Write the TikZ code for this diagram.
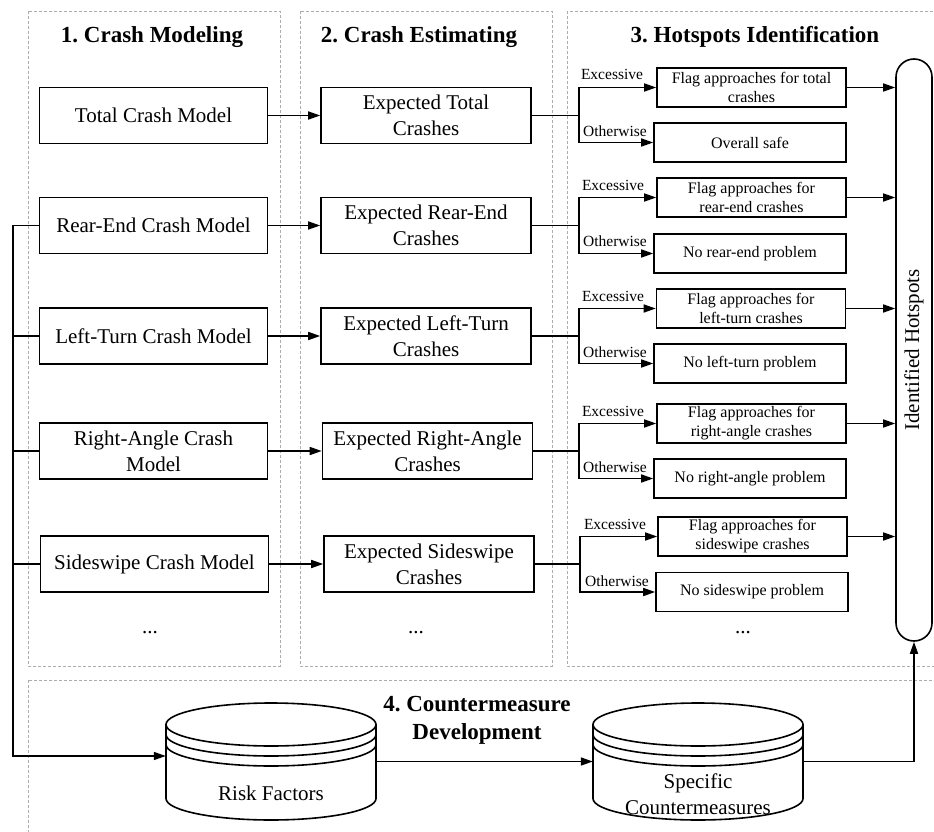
\documentclass[tikz,border=0pt]{standalone}
\usepackage{fontspec}
\setmainfont{Liberation Serif}
\usepackage{graphicx}
\usetikzlibrary{arrows.meta,calc}
\frenchspacing
\begin{document}
\begin{tikzpicture}[x=1pt,y=-1pt,
  panel/.style={draw=gray!65, dash pattern=on 3pt off 2pt, line width=0.8pt},
  ttl/.style={font=\fontsize{23}{28}\selectfont\bfseries, align=center},
  bigbox/.style={draw, line width=1.6pt, align=center, inner sep=0pt, minimum height=56pt, font=\fontsize{21}{26}\selectfont},
  mbox/.style={bigbox, minimum width=228pt},
  ebox/.style={bigbox, minimum width=210pt},
  smallbox/.style={draw, line width=1.6pt, align=center, inner sep=0pt, minimum height=39pt, font=\fontsize{16}{19}\selectfont},
  fbox/.style={smallbox, minimum width=189pt},
  nbox/.style={smallbox, minimum width=192pt},
  lab/.style={font=\fontsize{15.5}{18}\selectfont, inner sep=0pt},
  conn/.style={line width=1.6pt},
  arr/.style={conn, -{Triangle[length=12pt,width=8pt]}},
  inv/.style={inner sep=0pt},
  txt/.style={font=\fontsize{21}{26}\selectfont, align=center, inner sep=0pt}
]
\useasboundingbox (0,0) rectangle (934,832);
\clip (0,0) rectangle (934,832);

% panels
\draw[panel] (28,11) rectangle (280,666);
\draw[panel] (300,11) rectangle (552,666);
\draw[panel] (567,11) rectangle (945,666);
\draw[panel] (28,680) rectangle (945,845);

% titles
\node[ttl] (t1) at (152,37) {1. Crash Modeling};
\node[ttl] (t2) at (419,37) {2. Crash Estimating};
\node[ttl] (t3) at (755,37) {3. Hotspots Identification};
\node[ttl] (t4) at (477,720) {4. Countermeasure\\Development};

% column 1
\node[mbox] (m1) at (153.5,115.5) {Total Crash Model};
\node[mbox] (m2) at (153.5,225.5) {Rear-End Crash Model};
\node[mbox] (m3) at (153.5,336) {Left-Turn Crash Model};
\node[mbox] (m4) at (153.5,451) {Right-Angle Crash\\Model};
\node[mbox] (m5) at (154.5,564) {Sideswipe Crash Model};

% column 2
\node[ebox] (e1) at (426,115.5) {Expected Total\\Crashes};
\node[ebox] (e2) at (426,225.5) {Expected Rear-End\\Crashes};
\node[ebox] (e3) at (426,336) {Expected Left-Turn\\Crashes};
\node[ebox] (e4) at (427.5,451) {Expected Right-Angle\\Crashes};
\node[ebox] (e5) at (429,564) {Expected Sideswipe\\Crashes};

% column 3
\node[fbox] (f1) at (751.5,87.5) {Flag approaches for total\\crashes};
\node[nbox] (n1) at (750,142.5) {Overall safe};
\node[fbox] (f2) at (751.5,197.5) {Flag approaches for\\rear-end crashes};
\node[nbox] (n2) at (750,253.5) {No rear-end problem};
\node[fbox] (f3) at (751,308.5) {Flag approaches for\\left-turn crashes};
\node[nbox] (n3) at (750,363.5) {No left-turn problem};
\node[fbox] (f4) at (751.5,423.5) {Flag approaches for\\right-angle crashes};
\node[nbox] (n4) at (750,478.5) {No right-angle problem};
\node[fbox] (f5) at (752.5,536.5) {Flag approaches for\\sideswipe crashes};
\node[nbox] (n5) at (752,592) {No sideswipe problem};

% dots
\node[txt] (d1) at (150,633) {...};
\node[txt] (d2) at (416,633) {...};
\node[txt] (d3) at (743,633) {...};

% identified hotspots
\node[draw, line width=1.6pt, rounded corners=18pt, minimum width=36pt, minimum height=582pt, inner sep=0pt,
      font=\fontsize{21}{26}\selectfont] (hot) at (914,350) {\rotatebox{90}{Identified Hotspots}};

% branch points
\coordinate (b1) at (579,115.5);
\coordinate (b2) at (579,225.5);
\coordinate (b3) at (579,336);
\coordinate (b4) at (579,451);
\coordinate (b5) at (580,564);

% col1 -> col2 and branches
\foreach \i in {1,...,5} {
  \draw[arr] (m\i.east) -- (e\i.west);
  \draw[conn] (e\i.east) -- (b\i);
  \draw[arr] (b\i) |- (f\i.west);
  \draw[arr] (b\i) |- (n\i.west);
  \draw[arr] (f\i.east) -- (f\i.east -| hot.west);
}

% branch labels
\node[lab] (x1) at (612,74) {Excessive};
\node[lab] (o1) at (615,131.5) {Otherwise};
\node[lab] (x2) at (613,185) {Excessive};
\node[lab] (o2) at (615,241.5) {Otherwise};
\node[lab] (x3) at (613,296) {Excessive};
\node[lab] (o3) at (615,352) {Otherwise};
\node[lab] (x4) at (613,411) {Excessive};
\node[lab] (o4) at (615,467) {Otherwise};
\node[lab] (x5) at (615,524.5) {Excessive};
\node[lab] (o5) at (617,581) {Otherwise};

% cylinders
\foreach \cx in {271,698} {
  \begin{scope}[shift={(\cx,761.5)}, line width=1.6pt]
    \fill[white] (-105,-37) -- (-105,37) arc[start angle=180,end angle=0,x radius=105,y radius=21.5] -- (105,-37) -- cycle;
    \draw (-105,-37) -- (-105,37) arc[start angle=180,end angle=0,x radius=105,y radius=21.5] -- (105,-37);
    \draw[fill=white] (0,-37) ellipse[x radius=105, y radius=21.5];
    \draw (-105,-27) arc[start angle=180,end angle=0,x radius=105,y radius=21.5];
    \draw (-105,-17) arc[start angle=180,end angle=0,x radius=105,y radius=21.5];
  \end{scope}
}
\node[inv, minimum width=210pt, minimum height=117pt] (rf) at (271,761.5) {};
\node[inv, minimum width=210pt, minimum height=117pt] (sc) at (698,761.5) {};
\node[txt] (rft) at (271,793) {Risk Factors};
\node[txt] (sct) at (698,794) {Specific\\Countermeasures};

% feedback lines
\coordinate (fb) at (13,756);
\draw[arr] (m2.west) -| (fb) -- (rf.west |- fb);
\draw[conn] (m3.west) -- (m3.west -| fb);
\draw[conn] (m4.west) -- (m4.west -| fb);
\draw[conn] (m5.west) -- (m5.west -| fb);

\draw[arr] (rf.east) -- (sc.west);
\draw[arr] (sc.east) -| (hot.south);
\end{tikzpicture}
\end{document}
